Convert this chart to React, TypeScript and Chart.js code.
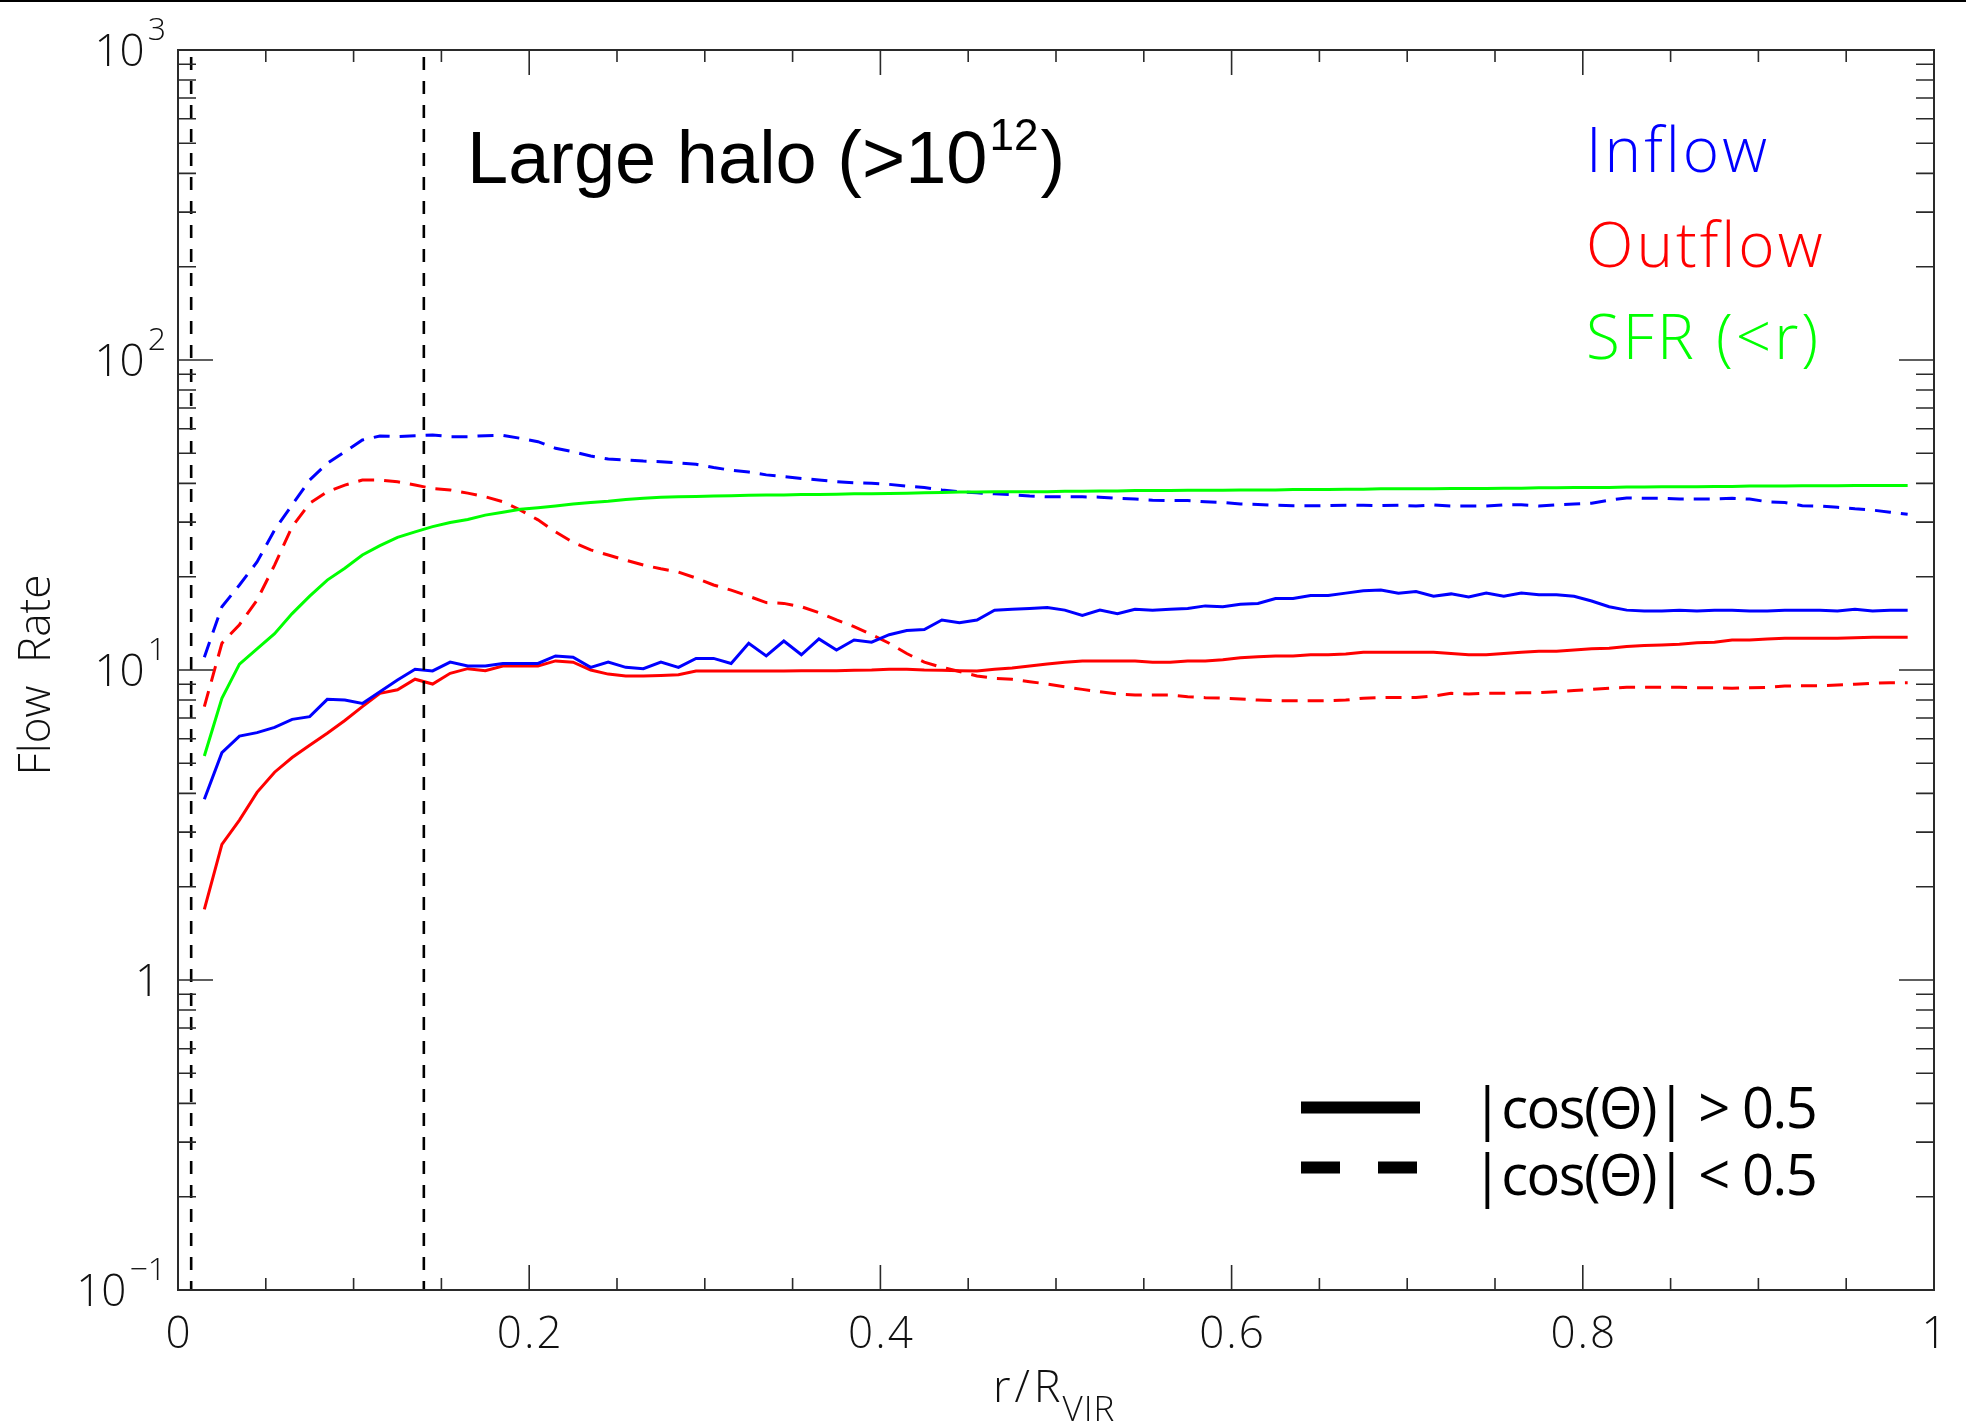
import React, { useEffect, useRef } from "react";
import { Chart, registerables } from "chart.js";

Chart.register(...registerables);

// Radial sample positions r / R_vir
const radii = [
  0.015, 0.025, 0.035, 0.045, 0.055, 0.065, 0.075, 0.085, 0.095, 0.105,
  0.115, 0.125, 0.135, 0.145, 0.155, 0.165, 0.175, 0.185, 0.195, 0.205,
  0.215, 0.225, 0.235, 0.245, 0.255, 0.265, 0.275, 0.285, 0.295, 0.305,
  0.315, 0.325, 0.335, 0.345, 0.355, 0.365, 0.375, 0.385, 0.395, 0.405,
  0.415, 0.425, 0.435, 0.445, 0.455, 0.465, 0.475, 0.485, 0.495, 0.505,
  0.515, 0.525, 0.535, 0.545, 0.555, 0.565, 0.575, 0.585, 0.595, 0.605,
  0.615, 0.625, 0.635, 0.645, 0.655, 0.665, 0.675, 0.685, 0.695, 0.705,
  0.715, 0.725, 0.735, 0.745, 0.755, 0.765, 0.775, 0.785, 0.795, 0.805,
  0.815, 0.825, 0.835, 0.845, 0.855, 0.865, 0.875, 0.885, 0.895, 0.905,
  0.915, 0.925, 0.935, 0.945, 0.955, 0.965, 0.975, 0.985,
];

// Inflow, |cos(theta)| > 0.5
const inflowAligned = [
  3.83, 5.41, 6.12, 6.28, 6.53, 6.93, 7.07, 8.04, 8.0, 7.8,
  8.51, 9.28, 10.05, 9.93, 10.6, 10.3, 10.3, 10.5, 10.5, 10.5,
  11.1, 11.0, 10.2, 10.6, 10.2, 10.1, 10.6, 10.2, 10.9, 10.9,
  10.5, 12.2, 11.1, 12.4, 11.2, 12.6, 11.6, 12.5, 12.3, 13.0,
  13.4, 13.5, 14.5, 14.2, 14.5, 15.6, 15.7, 15.8, 15.9, 15.6,
  15.0, 15.6, 15.2, 15.7, 15.6, 15.7, 15.8, 16.1, 16.0, 16.3,
  16.4, 17.0, 17.0, 17.4, 17.4, 17.7, 18.0, 18.1, 17.7, 17.9,
  17.3, 17.6, 17.2, 17.7, 17.3, 17.7, 17.5, 17.5, 17.3, 16.7,
  16.0, 15.6, 15.5, 15.5, 15.6, 15.5, 15.6, 15.6, 15.5, 15.5,
  15.6, 15.6, 15.6, 15.5, 15.7, 15.5, 15.6, 15.6,
];

// Outflow, |cos(theta)| > 0.5
const outflowAligned = [
  1.69, 2.74, 3.28, 4.03, 4.68, 5.22, 5.72, 6.25, 6.87, 7.62,
  8.41, 8.63, 9.34, 9.01, 9.76, 10.1, 9.95, 10.3, 10.3, 10.3,
  10.7, 10.6, 10.0, 9.7, 9.57, 9.57, 9.6, 9.65, 9.93, 9.93,
  9.93, 9.93, 9.93, 9.93, 9.95, 9.95, 9.95, 9.98, 10.0, 10.05,
  10.05, 10.0, 9.98, 9.95, 9.93, 10.05, 10.15, 10.3, 10.45, 10.6,
  10.7, 10.7, 10.7, 10.7, 10.6, 10.6, 10.7, 10.7, 10.8, 10.96,
  11.04, 11.1, 11.1, 11.2, 11.2, 11.26, 11.4, 11.4, 11.4, 11.4,
  11.4, 11.3, 11.2, 11.2, 11.3, 11.4, 11.5, 11.5, 11.6, 11.7,
  11.75, 11.9, 12.0, 12.05, 12.1, 12.25, 12.3, 12.5, 12.5, 12.6,
  12.65, 12.65, 12.65, 12.65, 12.7, 12.75, 12.75, 12.75,
];

// Star formation rate enclosed within r
const sfrEnclosed = [
  5.28, 8.11, 10.45, 11.7, 13.1, 15.2, 17.3, 19.5, 21.3, 23.5,
  25.2, 26.8, 27.9, 29.0, 29.9, 30.6, 31.6, 32.3, 33.0, 33.4,
  33.8, 34.3, 34.7, 35.0, 35.5, 35.8, 36.1, 36.2, 36.3, 36.4,
  36.5, 36.6, 36.7, 36.7, 36.8, 36.8, 36.9, 37.0, 37.0, 37.1,
  37.2, 37.3, 37.4, 37.5, 37.5, 37.6, 37.6, 37.6, 37.6, 37.7,
  37.7, 37.8, 37.8, 37.9, 37.9, 37.9, 38.0, 38.0, 38.0, 38.1,
  38.1, 38.1, 38.2, 38.2, 38.2, 38.3, 38.3, 38.4, 38.4, 38.4,
  38.4, 38.5, 38.5, 38.5, 38.6, 38.6, 38.7, 38.7, 38.8, 38.8,
  38.8, 38.9, 38.9, 39.0, 39.0, 39.0, 39.1, 39.1, 39.2, 39.2,
  39.2, 39.3, 39.3, 39.3, 39.4, 39.4, 39.4, 39.4,
];

// Inflow, |cos(theta)| < 0.5
const inflowPerp = [
  11.0, 16.0, 18.8, 22.3, 28.3, 34.1, 41.0, 46.4, 50.6, 55.2,
  56.9, 56.6, 57.0, 57.3, 56.6, 56.6, 57.0, 57.1, 55.9, 54.5,
  51.9, 50.6, 49.0, 47.9, 47.6, 47.2, 47.0, 46.6, 46.1, 45.0,
  44.1, 43.5, 42.6, 42.1, 41.5, 41.0, 40.5, 40.2, 40.0, 39.7,
  39.2, 38.8, 38.1, 37.6, 37.3, 37.0, 36.8, 36.4, 36.2, 36.2,
  36.2, 36.1, 35.8, 35.6, 35.3, 35.2, 35.2, 34.9, 34.7, 34.3,
  34.2, 34.0, 33.9, 33.9, 33.9, 34.0, 34.0, 33.9, 34.0, 33.8,
  34.1, 33.8, 33.8, 33.8, 34.1, 34.1, 33.8, 34.1, 34.3, 34.5,
  35.3, 35.9, 35.8, 35.8, 35.6, 35.6, 35.6, 35.8, 35.6, 34.9,
  34.7, 33.9, 33.8, 33.5, 33.1, 32.8, 32.3, 31.8,
];

// Outflow, |cos(theta)| < 0.5
const outflowPerp = [
  7.62, 12.2, 14.0, 16.8, 21.8, 29.0, 34.5, 37.6, 39.5, 41.0,
  41.0, 40.5, 39.5, 38.5, 38.1, 37.2, 36.2, 34.9, 32.8, 30.5,
  27.9, 25.8, 24.4, 23.5, 22.6, 21.8, 21.2, 20.7, 19.8, 18.8,
  18.1, 17.3, 16.5, 16.4, 16.0, 15.3, 14.5, 13.8, 13.0, 12.2,
  11.3, 10.6, 10.2, 9.89, 9.57, 9.4, 9.33, 9.17, 9.01, 8.83,
  8.66, 8.51, 8.37, 8.3, 8.3, 8.3, 8.2, 8.14, 8.11, 8.06,
  8.0, 7.96, 7.96, 7.96, 7.96, 8.0, 8.11, 8.14, 8.16, 8.16,
  8.24, 8.41, 8.37, 8.41, 8.41, 8.45, 8.45, 8.51, 8.58, 8.66,
  8.73, 8.79, 8.79, 8.79, 8.79, 8.77, 8.77, 8.73, 8.77, 8.79,
  8.88, 8.9, 8.9, 8.95, 9.0, 9.06, 9.1, 9.1,
];

// Vertical reference radii (dashed black lines)
const markerRadii = [0.0075, 0.14];

const xTickValues = [0, 0.2, 0.4, 0.6, 0.8, 1];
const xTickLabels = ["0", "0.2", "0.4", "0.6", "0.8", "1"];
const yTickValues = [0.1, 1, 10, 100, 1000];
const yTickBase = ["10", "1", "10", "10", "10"];
const yTickExp = ["\u22121", "", "1", "2", "3"];

const seriesNames = ["Inflow", "Outflow", "SFR (<r)"];
const seriesColors = ["#0000ff", "#ff0000", "#00ff00"];
const styleNames = ["|cos(\u0398)| > 0.5", "|cos(\u0398)| < 0.5"];

const THIN = '300 44px "Open Sans"';

const decor = {
  id: "decor",
  afterDraw(chart: any) {
    const { ctx, chartArea: a, scales } = chart;
    const xs = scales.x;
    const ys = scales.y;
    ctx.save();

    // rule along the top edge
    ctx.fillStyle = "#000";
    ctx.fillRect(0, 0, chart.width, 2);

    // frame
    ctx.strokeStyle = "#2a2a2a";
    ctx.lineWidth = 2;
    ctx.strokeRect(a.left, a.top, a.right - a.left, a.bottom - a.top);

    // inward ticks
    ctx.lineWidth = 1.6;
    ctx.beginPath();
    for (let i = 1; i < 20; i++) {
      const px = xs.getPixelForValue(i * 0.05);
      const len = i % 4 === 0 ? 25 : 12;
      ctx.moveTo(px, a.bottom);
      ctx.lineTo(px, a.bottom - len);
      ctx.moveTo(px, a.top);
      ctx.lineTo(px, a.top + len);
    }
    for (let d = -1; d < 3; d++) {
      for (let m = 1; m <= 9; m++) {
        if (d === -1 && m === 1) continue;
        const py = ys.getPixelForValue(m * Math.pow(10, d));
        const len = m === 1 ? 35 : 18;
        ctx.moveTo(a.left, py);
        ctx.lineTo(a.left + len, py);
        ctx.moveTo(a.right, py);
        ctx.lineTo(a.right - len, py);
      }
    }
    ctx.stroke();

    // x tick labels
    ctx.fillStyle = "#111";
    ctx.font = THIN;
    ctx.letterSpacing = "2px";
    ctx.textAlign = "center";
    ctx.textBaseline = "alphabetic";
    xTickValues.forEach((v, i) => {
      ctx.fillText(xTickLabels[i], xs.getPixelForValue(v) + 1, 1348);
    });
    ctx.letterSpacing = "0px";

    // y tick labels with exponents
    ctx.textAlign = "left";
    yTickValues.forEach((v, i) => {
      const py = ys.getPixelForValue(v);
      ctx.font = THIN;
      const wb = ctx.measureText(yTickBase[i]).width;
      ctx.font = '300 32px "Open Sans"';
      const we = yTickExp[i] ? ctx.measureText(yTickExp[i]).width + 3 : 0;
      const right = yTickExp[i] ? 166 : 160;
      const x0 = right - wb - we;
      ctx.font = THIN;
      ctx.fillText(yTickBase[i], x0, py + 15.5);
      if (yTickExp[i]) {
        ctx.font = '300 32px "Open Sans"';
        ctx.fillText(yTickExp[i], x0 + wb + 3, py - 10);
      }
    });

    // axis titles
    ctx.font = '300 45px "Open Sans"';
    ctx.letterSpacing = "4px";
    ctx.fillText("r/R", 993, 1402);
    const wr = ctx.measureText("r/R").width;
    ctx.font = '300 35px "Open Sans"';
    ctx.letterSpacing = "1px";
    ctx.fillText("VIR", 993 + wr - 2, 1421);
    ctx.letterSpacing = "0px";

    ctx.save();
    ctx.translate(50, 675);
    ctx.rotate(-Math.PI / 2);
    ctx.font = '300 44px "Open Sans"';
    ctx.textAlign = "center";
    ctx.fillText("Flow  Rate", 0, 0);
    ctx.restore();

    // panel title
    ctx.fillStyle = "#000";
    ctx.textAlign = "left";
    ctx.font = '74px "Liberation Sans"';
    const t1 = "Large halo (>10";
    ctx.fillText(t1, 467, 183);
    let tx = 467 + ctx.measureText(t1).width + 2;
    ctx.font = '44px "Liberation Sans"';
    ctx.fillText("12", tx, 150);
    tx += ctx.measureText("12").width + 2;
    ctx.font = '74px "Liberation Sans"';
    ctx.fillText(")", tx, 183);

    // series names
    ctx.font = '300 62px "Open Sans"';
    ctx.letterSpacing = "3px";
    const baselines = [172, 267, 359];
    seriesNames.forEach((name, i) => {
      ctx.fillStyle = seriesColors[i];
      ctx.fillText(name, 1586, baselines[i]);
    });
    ctx.letterSpacing = "0px";

    // line-style key
    ctx.strokeStyle = "#000";
    ctx.lineWidth = 12;
    ctx.lineCap = "butt";
    ctx.beginPath();
    ctx.moveTo(1301, 1107.5);
    ctx.lineTo(1420, 1107.5);
    ctx.stroke();
    ctx.setLineDash([39, 38]);
    ctx.beginPath();
    ctx.moveTo(1301, 1167.5);
    ctx.lineTo(1420, 1167.5);
    ctx.stroke();
    ctx.setLineDash([]);

    ctx.fillStyle = "#000";
    ctx.font = '400 56px "Open Sans"';
    ctx.letterSpacing = "-1.5px";
    ctx.fillText(styleNames[0], 1472, 1128);
    ctx.fillText(styleNames[1], 1472, 1195);
    ctx.letterSpacing = "0px";

    ctx.restore();
  },
};

function pts(vals: number[]) {
  return radii.map((r, i) => ({ x: r, y: vals[i] }));
}

export default function App() {
  const ref = useRef<HTMLCanvasElement | null>(null);

  useEffect(() => {
    if (!ref.current) return;
    const markerSets = markerRadii.map((r) => ({
      data: [
        { x: r, y: 1000 },
        { x: r, y: 0.1 },
      ],
      borderColor: "#000",
      borderWidth: 2.6,
      borderDash: [13, 11],
      borderDashOffset: 17,
    }));
    const curve = (vals: number[], color: string, dashed: boolean) => ({
      data: pts(vals),
      borderColor: color,
      borderWidth: 3,
      borderDash: dashed ? [16, 10] : [],
    });
    const chart = new Chart(ref.current, {
      type: "line",
      data: {
        datasets: [
          ...markerSets,
          curve(inflowAligned, seriesColors[0], false),
          curve(outflowAligned, seriesColors[1], false),
          curve(sfrEnclosed, seriesColors[2], false),
          curve(inflowPerp, seriesColors[0], true),
          curve(outflowPerp, seriesColors[1], true),
        ] as any,
      },
      options: {
        animation: false,
        responsive: false,
        devicePixelRatio: 1,
        layout: { padding: { left: 178, right: 32, top: 50, bottom: 135 } },
        plugins: { legend: { display: false }, tooltip: { enabled: false } },
        elements: { point: { radius: 0 }, line: { tension: 0 } },
        scales: {
          x: { type: "linear", min: 0, max: 1, display: false },
          y: { type: "logarithmic", min: 0.1, max: 1000, display: false },
        },
      } as any,
      plugins: [decor],
    });
    return () => chart.destroy();
  }, []);

  return (
    <div style={{ position: "absolute", left: 0, top: 0, width: 1966, height: 1425, background: "#fff" }}>
      <canvas ref={ref} width={1966} height={1425} style={{ width: 1966, height: 1425 }} />
    </div>
  );
}
